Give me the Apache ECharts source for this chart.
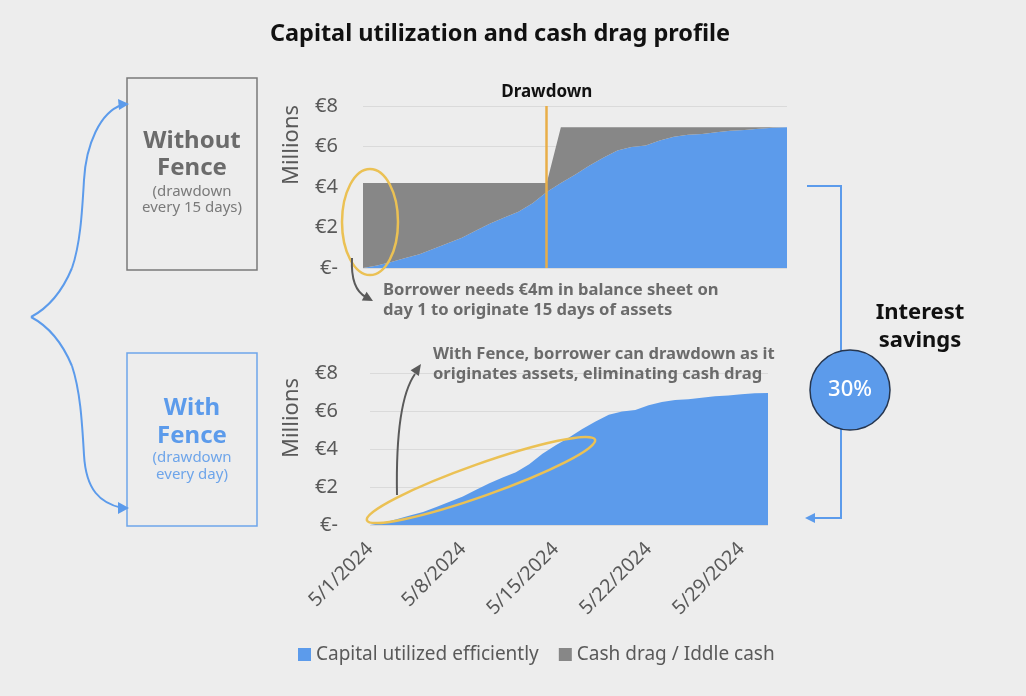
<!DOCTYPE html>
<html>
<head>
<meta charset="utf-8">
<script src="https://cdn.jsdelivr.net/npm/echarts@6/dist/echarts.min.js"></script>
<style>
html,body{margin:0;padding:0;background:#ededed;}
#chart{width:1026px;height:696px;}
</style>
</head>
<body>
<div id="chart"></div>
<script>
// ---------- DATA ----------
const dates = ['5/1/2024','5/2/2024','5/3/2024','5/4/2024','5/5/2024','5/6/2024','5/7/2024','5/8/2024','5/9/2024','5/10/2024',
  '5/11/2024','5/12/2024','5/13/2024','5/14/2024','5/15/2024','5/16/2024','5/17/2024','5/18/2024','5/19/2024','5/20/2024',
  '5/21/2024','5/22/2024','5/23/2024','5/24/2024','5/25/2024','5/26/2024','5/27/2024','5/28/2024','5/29/2024','5/30/2024','5/31/2024'];
// capital utilized (millions EUR), same origination curve in both scenarios
const capitalUtilized = [0, 0.12, 0.3, 0.5, 0.68, 0.95, 1.22, 1.5, 1.85, 2.2,
  2.5, 2.78, 3.2, 3.75, 4.2, 4.6, 5.05, 5.45, 5.8, 5.98,
  6.05, 6.3, 6.48, 6.58, 6.62, 6.7, 6.78, 6.82, 6.88, 6.93, 6.95];
// balance drawn without Fence (drawdown every 15 days)
const balanceWithoutFence = [4.2, 4.2, 4.2, 4.2, 4.2, 4.2, 4.2, 4.2, 4.2, 4.2,
  4.2, 4.2, 4.2, 4.2, 6.95, 6.95, 6.95, 6.95, 6.95, 6.95,
  6.95, 6.95, 6.95, 6.95, 6.95, 6.95, 6.95, 6.95, 6.95, 6.95, 6.95];
const drawdownDate = '5/14/2024';
const yTickLabels = ['€-', '€2', '€4', '€6', '€8'];
const seriesNames = ['Capital utilized efficiently', 'Cash drag / Iddle cash'];
const savingsLabel = '30%';

const cashDrag = balanceWithoutFence.map((b, i) => +(b - capitalUtilized[i]).toFixed(3));

// ---------- STYLE ----------
const FONT = 'Noto Sans';
const BLUE = '#5C9BEB';
const GRAY = '#878787';
const TXT = '#595959';

const chart = echarts.init(document.getElementById('chart'));

const yAxisBase = {
  type: 'value', min: 0, max: 8, interval: 2,
  axisLine: {show: false}, axisTick: {show: false},
  splitLine: {lineStyle: {color: '#dadada', width: 1}},
  axisLabel: {color: TXT, fontSize: 20, fontFamily: FONT, formatter: v => yTickLabels[Math.round(v / 2)]}
};

function txt(x, y, text, font, fill, align, lh) {
  const st = {text: text, font: font, fill: fill, align: align || 'center', verticalAlign: 'middle',
            textAlign: align || 'center', textVerticalAlign: 'middle'};
  if (lh) st.lineHeight = lh;
  return {type: 'text', x: x, y: y, silent: true, z: 120, style: st};
}
function curve(p, stroke, w) {
  return {type: 'bezierCurve', silent: true, z: 100,
    shape: {x1: p[0], y1: p[1], cpx1: p[2], cpy1: p[3], cpx2: p[4], cpy2: p[5], x2: p[6], y2: p[7]},
    style: {fill: 'none', stroke: stroke, lineWidth: w}};
}

const option = {
  backgroundColor: '#ededed',
  animation: false,
  textStyle: {fontFamily: FONT},
  grid: [
    {left: 363, right: 239, top: 106, bottom: 428},
    {left: 370, right: 258, top: 373, bottom: 171}
  ],
  xAxis: [
    {gridIndex: 0, type: 'category', data: dates, boundaryGap: false,
      axisLine: {show: false}, axisTick: {show: false}, axisLabel: {show: false}},
    {gridIndex: 1, type: 'category', data: dates, boundaryGap: false,
      axisLine: {show: false}, axisTick: {show: false},
      axisLabel: {interval: 6, rotate: 45, margin: 21, color: TXT, fontSize: 19.5, fontFamily: FONT}}
  ],
  yAxis: [
    Object.assign({gridIndex: 0}, yAxisBase, {axisLabel: Object.assign({}, yAxisBase.axisLabel, {margin: 25})}),
    Object.assign({gridIndex: 1}, yAxisBase, {axisLabel: Object.assign({}, yAxisBase.axisLabel, {margin: 32})})
  ],
  legend: {
    left: 298, top: 645, padding: 0, itemGap: 20, itemWidth: 13, itemHeight: 13,
    icon: 'rect', data: seriesNames,
    textStyle: {color: TXT, fontSize: 19, fontFamily: FONT}
  },
  series: [
    {name: seriesNames[0], type: 'line', xAxisIndex: 0, yAxisIndex: 0, stack: 'top',
      data: capitalUtilized, showSymbol: false, symbol: 'none',
      lineStyle: {width: 0}, itemStyle: {color: BLUE}, areaStyle: {color: BLUE, opacity: 1}},
    {name: seriesNames[1], type: 'line', xAxisIndex: 0, yAxisIndex: 0, stack: 'top',
      data: cashDrag, showSymbol: false, symbol: 'none',
      lineStyle: {width: 0}, itemStyle: {color: GRAY}, areaStyle: {color: GRAY, opacity: 1},
      markLine: {
        silent: true, symbol: 'none', animation: false,
        lineStyle: {color: '#E8AE48', width: 2.5, type: 'solid'},
        label: {show: true, position: 'end', formatter: 'Drawdown', color: '#111', fontWeight: 'bold',
                fontSize: 17, fontFamily: FONT, distance: 5},
        data: [{xAxis: drawdownDate}]
      }},
    {name: seriesNames[0], type: 'line', xAxisIndex: 1, yAxisIndex: 1,
      data: capitalUtilized, showSymbol: false, symbol: 'none',
      lineStyle: {width: 0}, itemStyle: {color: BLUE}, areaStyle: {color: BLUE, opacity: 1}}
  ],
  graphic: [
    txt(500, 34, 'Capital utilization and cash drag profile', 'bold 23.5px ' + FONT, '#111'),
    // Millions labels
    Object.assign(txt(292, 145, 'Millions', '22px ' + FONT, TXT), {rotation: Math.PI / 2}),
    Object.assign(txt(292, 418, 'Millions', '22px ' + FONT, TXT), {rotation: Math.PI / 2}),
    // left boxes
    {type: 'rect', silent: true, shape: {x: 127, y: 78, width: 130, height: 192},
      style: {fill: 'none', stroke: '#7a7a7a', lineWidth: 1.5}},
    txt(192, 141, 'Without', 'bold 24px ' + FONT, '#6b6b6b'),
    txt(192, 168, 'Fence', 'bold 24px ' + FONT, '#6b6b6b'),
    txt(192, 192, '(drawdown', '15px ' + FONT, '#7a7a7a'),
    txt(192, 208, 'every 15 days)', '15px ' + FONT, '#7a7a7a'),
    {type: 'rect', silent: true, shape: {x: 127, y: 353, width: 130, height: 173},
      style: {fill: 'none', stroke: '#6ea5ea', lineWidth: 1.5}},
    txt(192, 408, 'With', 'bold 24px ' + FONT, BLUE),
    txt(192, 436, 'Fence', 'bold 24px ' + FONT, BLUE),
    txt(192, 458, '(drawdown', '15px ' + FONT, '#6ea5ea'),
    txt(192, 475, 'every day)', '15px ' + FONT, '#6ea5ea'),
    // brace
    curve([31, 317, 48, 308, 62, 292, 72, 268], BLUE, 2),
    curve([72, 268, 80, 245, 82, 215, 84, 180], BLUE, 2),
    curve([84, 180, 86, 145, 100, 112, 122, 105], BLUE, 2),
    curve([31, 317, 48, 326, 62, 342, 72, 366], BLUE, 2),
    curve([72, 366, 80, 390, 82, 420, 84, 455], BLUE, 2),
    curve([84, 455, 86, 490, 100, 503, 122, 508], BLUE, 2),
    {type: 'polygon', silent: true, shape: {points: [[129, 104], [118, 99], [119, 110]]}, style: {fill: BLUE}},
    {type: 'polygon', silent: true, shape: {points: [[129, 508], [118, 502], [118, 514]]}, style: {fill: BLUE}},
    // top ellipse and arrow
    {type: 'ellipse', silent: true, shape: {cx: 370, cy: 222, rx: 28, ry: 53},
      style: {fill: 'none', stroke: '#EBC154', lineWidth: 2.5}, z: 100},
    curve([352, 258, 351, 278, 356, 292, 366, 297], '#5a5a5a', 2),
    {type: 'polygon', silent: true, shape: {points: [[373, 301], [361.8, 300.6], [366.6, 291.8]]}, style: {fill: '#5a5a5a'}, z: 100},
    txt(383, 300, 'Borrower needs €4m in balance sheet on\nday 1 to originate 15 days of assets', 'bold 16.6px ' + FONT, '#6b6b6b', 'left', 20),
    // bottom ellipse and arrow
    {type: 'ellipse', silent: true, x: 481, y: 480, rotation: 0.34, shape: {cx: 0, cy: 0, rx: 121, ry: 16},
      style: {fill: 'none', stroke: '#EBC154', lineWidth: 2.5}, z: 100},
    curve([397, 495, 396, 440, 400, 395, 415, 374], '#5a5a5a', 2),
    {type: 'polygon', silent: true, shape: {points: [[421, 364], [418.8, 375.9], [410.6, 370.2]]}, style: {fill: '#5a5a5a'}, z: 100},
    txt(433, 364, 'With Fence, borrower can drawdown as it\noriginates assets, eliminating cash drag', 'bold 16.6px ' + FONT, '#6b6b6b', 'left', 20),
    // right bracket
    {type: 'polyline', silent: true, shape: {points: [[807, 186], [841, 186], [841, 518], [813, 518]]},
      style: {fill: 'none', stroke: BLUE, lineWidth: 2}},
    {type: 'polygon', silent: true, shape: {points: [[805, 518], [815, 513], [815, 523]]}, style: {fill: BLUE}},
    {type: 'circle', silent: true, shape: {cx: 850, cy: 390, r: 40},
      style: {fill: BLUE, stroke: '#26364f', lineWidth: 1.5}},
    txt(850, 390, savingsLabel, '500 22px ' + FONT, '#ffffff'),
    txt(920, 313, 'Interest', 'bold 22px ' + FONT, '#111'),
    txt(920, 341, 'savings', 'bold 22px ' + FONT, '#111')
  ]
};
chart.setOption(option);
</script>
</body>
</html>
